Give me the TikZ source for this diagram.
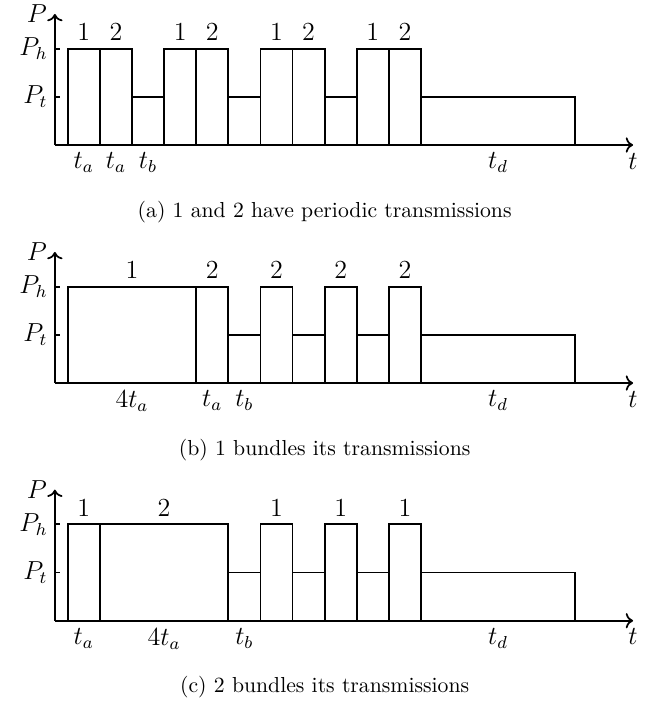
\documentclass[tikz,border=0pt]{standalone}
\usepackage{amsmath}
\usetikzlibrary{arrows.meta}

\begin{document}
\begin{tikzpicture}[x=0.52cm,y=0.52cm,
    sig/.style={thick},
    ax/.style={thick,->},
    tck/.style={thick},
    lab/.style={font=\large},
    lvl/.style={left,inner sep=3pt,font=\large},
    captext/.style={anchor=north,align=center}]
   \useasboundingbox (-2.108,4.514) rectangle (18.316,-17.372);

   % (a) periodic transmissions
   \begin{scope}
   \draw[ax] (-0.4,0) -- (17.6,0) node[lab,below] (aT) {$t$};
   \draw[ax] (-0.4,0) -- (-0.4,4.08) node[lab,left] (aP) {$P$};
   \draw[tck] (-0.4,3) -- (-0.25,3) node[lvl,at start] (aPh) {$P_h$};
   \draw[tck] (-0.4,1.5) -- (-0.25,1.5) node[lvl,at start] (aPt) {$P_t$};
   \foreach \x in {0,1,3,4,6,7,9,10}
      \draw[sig] (\x,0) rectangle (\x+1,3);
   \foreach \x in {2,5,8}
      \draw[sig] (\x,1.5) -- (\x+1,1.5);
   \draw[sig] (11,1.5) -- (15.8,1.5) -- (15.8,0);
   \foreach \x/\n in {0/1,1/2,3/1,4/2,6/1,7/2,9/1,10/2}
      \node[lab,above] (aN\x) at (\x+0.5,3) {$\n$};
   \node[lab,below] (aL1) at (0.5,0) {$t_a$};
   \node[lab,below] (aL2) at (1.5,0) {$t_a$};
   \node[lab,below] (aL3) at (2.5,0) {$t_b$};
   \node[lab,below] (aL4) at (13.4,0) {$t_d$};
   \node[captext] (aC) at (8,-1.5) {(a) 1 and 2 have periodic transmissions};
   \end{scope}

   % (b) 1 bundles
   \begin{scope}[yshift=-7.41*0.52cm]
   \draw[ax] (-0.4,0) -- (17.6,0) node[lab,below] (bT) {$t$};
   \draw[ax] (-0.4,0) -- (-0.4,4.08) node[lab,left] (bP) {$P$};
   \draw[tck] (-0.4,3) -- (-0.25,3) node[lvl,at start] (bPh) {$P_h$};
   \draw[tck] (-0.4,1.5) -- (-0.25,1.5) node[lvl,at start] (bPt) {$P_t$};
   \draw[sig] (0,0) rectangle (4,3);
   \foreach \x in {4,6,8,10}
      \draw[sig] (\x,0) rectangle (\x+1,3);
   \foreach \x in {5,7,9}
      \draw[sig] (\x,1.5) -- (\x+1,1.5);
   \draw[sig] (11,1.5) -- (15.8,1.5) -- (15.8,0);
   \node[lab,above] (bN0) at (2,3) {$1$};
   \foreach \x in {4,6,8,10}
      \node[lab,above] (bN\x) at (\x+0.5,3) {$2$};
   \node[lab,below] (bL1) at (2,0) {$4t_a$};
   \node[lab,below] (bL2) at (4.5,0) {$t_a$};
   \node[lab,below] (bL3) at (5.5,0) {$t_b$};
   \node[lab,below] (bL4) at (13.4,0) {$t_d$};
   \node[captext] (bC) at (8,-1.5) {(b) 1 bundles its transmissions};
   \end{scope}

   % (c) 2 bundles
   \begin{scope}[yshift=-14.81*0.52cm]
   \draw[ax] (-0.4,0) -- (17.6,0) node[lab,below] (cT) {$t$};
   \draw[ax] (-0.4,0) -- (-0.4,4.08) node[lab,left] (cP) {$P$};
   \draw[tck] (-0.4,3) -- (-0.25,3) node[lvl,at start] (cPh) {$P_h$};
   \draw[tck] (-0.4,1.5) -- (-0.25,1.5) node[lvl,at start] (cPt) {$P_t$};
   \draw[sig] (0,0) rectangle (1,3);
   \draw[sig] (1,0) rectangle (5,3);
   \foreach \x in {6,8,10}
      \draw[sig] (\x,0) rectangle (\x+1,3);
   \foreach \x in {5,7,9}
      \draw[sig] (\x,1.5) -- (\x+1,1.5);
   \draw[sig] (11,1.5) -- (15.8,1.5) -- (15.8,0);
   \node[lab,above] (cN0) at (0.5,3) {$1$};
   \node[lab,above] (cN1) at (3,3) {$2$};
   \foreach \x in {6,8,10}
      \node[lab,above] (cN\x) at (\x+0.5,3) {$1$};
   \node[lab,below] (cL1) at (0.5,0) {$t_a$};
   \node[lab,below] (cL2) at (3,0) {$4t_a$};
   \node[lab,below] (cL3) at (5.5,0) {$t_b$};
   \node[lab,below] (cL4) at (13.4,0) {$t_d$};
   \node[captext] (cC) at (8,-1.5) {(c) 2 bundles its transmissions};
   \end{scope}
\end{tikzpicture}
\end{document}
